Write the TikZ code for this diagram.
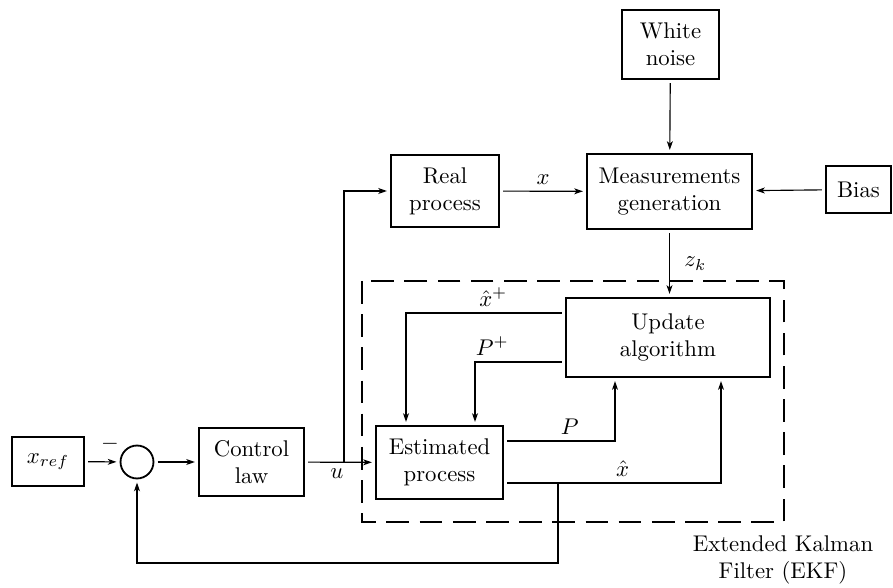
\documentclass[tikz,border=0pt]{standalone}
\usetikzlibrary{arrows.meta,calc}
\begin{document}
\begin{tikzpicture}[x=0.44pt,y=-0.44pt,
  blk/.style={draw,line width=0.8pt,align=center,inner sep=0pt,outer sep=1.8pt},
  conn/.style={line width=0.5pt,-{Stealth[length=3.8pt,width=2.6pt,inset=1pt]}},
  lbl/.style={inner sep=2.8pt}]
\useasboundingbox (0,0) rectangle (893,588);
% blocks
\node[blk,minimum width=31.7pt,minimum height=21.6pt] (xref) at (48,461.5) {$x_{ref}$};
\node[draw,circle,line width=0.8pt,minimum size=14.5pt,inner sep=0pt,outer sep=1.8pt] (sum) at (137,462) {};
\node[blk,minimum width=46.2pt,minimum height=29.9pt] (ctrl) at (251.5,462) {Control\\law};
\node[blk,minimum width=47.5pt,minimum height=31.7pt] (real) at (445,191) {Real\\process};
\node[blk,minimum width=72.6pt,minimum height=33pt] (meas) at (669.5,191.5) {Measurements\\generation};
\node[blk,minimum width=42.7pt,minimum height=30.4pt] (noise) at (670.5,44.5) {White\\noise};
\node[blk,minimum width=28.6pt,minimum height=20.7pt] (bias) at (858.5,189.5) {Bias};
\node[blk,minimum width=89.8pt,minimum height=34.8pt] (update) at (668,337.5) {Update\\algorithm};
\node[blk,minimum width=55.9pt,minimum height=32.1pt] (est) at (439.5,462.5) {Estimated\\process};
% dashed EKF frame
\draw[line width=0.7pt,dash pattern=on 10pt off 4.6pt] (362,281) rectangle (784,522);
\node[align=center] (ekf) at (783,560) {Extended Kalman\\Filter (EKF)};
\node (minus) at (110,444) {$-$};
% connectors
\draw[conn] (xref) -- (sum);
\draw[conn] (sum) -- (ctrl);
\draw[conn] (ctrl) -- node[below,lbl,pos=0.45] {$u$} (est);
\coordinate (br) at (344,462);
\draw[conn] (br) |- (real);
\draw[conn] (real) -- node[above,lbl] {$x$} (meas);
\draw[conn] (noise) -- (meas);
\draw[conn] (bias) -- (meas);
\draw[conn] (meas.south) -- node[right,xshift=3pt] {$z_k$} (meas.south |- update.north);
\draw[conn] ($(update.west)+(0,-24.5)$) -| node[above,lbl,pos=0.22] {$\hat{x}^{+}$} ($(est.north)+(-33.5,0)$);
\draw[conn] ($(update.west)+(0,24.5)$) -| node[above,lbl,pos=0.4] {$P^{+}$} ($(est.north)+(35.5,0)$);
\draw[conn] ($(est.east)+(0,-21.5)$) -| node[above,lbl,pos=0.29] {$P$} ($(update.south)+(-53,0)$);
\draw[conn] ($(est.east)+(0,20.5)$) -| node[above,lbl,pos=0.27] {$\hat{x}$} ($(update.south)+(53,0)$);
\coordinate (fb) at (558,483);
\coordinate (fbc) at (558,563);
\draw[conn] (fb) -- (fbc) -| (sum);
\end{tikzpicture}
\end{document}
